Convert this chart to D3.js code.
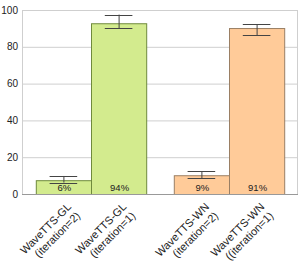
<!DOCTYPE html>
<html lang="en">
<head>
  <meta charset="UTF-8">
  <title>WaveTTS bars</title>
  <script src="https://d3js.org/d3.v7.min.js"></script>
  <style>
    body { margin: 0; background: #fff; }
    text { font-family: "Liberation Sans", Arial, sans-serif; fill: #222; }
    .grid line { stroke: #cfcfcf; stroke-width: 1; }
    .frame { fill: none; stroke: #cfcfcf; }
    .err { stroke: #444; stroke-width: 1; }
  </style>
</head>
<body>
  <svg width="300" height="276"></svg>

  <script>
    // data
    const groups = ["GL", "WN"];
    const series = ["iteration=2", "iteration=1"];
    const labels = [
      ["WaveTTS-GL", "(iteration=2)"], ["WaveTTS-GL", "(iteration=1)"],
      ["WaveTTS-WN", "(iteration=2)"], ["WaveTTS-WN", "((iteration=1)"]
    ];
    const values = [7.5, 92.8, 10.2, 90.2];
    const errLow = [6.2, 90.0, 8.5, 86.4];
    const errHigh = [9.8, 97.5, 12.3, 92.2];
    const pctLabels = ["6%", "94%", "9%", "91%"];
    const yTicks = [0, 20, 40, 60, 80, 100];

    const fills = { GL: "#d3eb8e", WN: "#ffcb99" };
    const strokes = { GL: "#6f8a3c", WN: "#9a7f64" };

    const svg = d3.select("svg");
    const margin = { top: 10, right: 2, bottom: 82, left: 22 };
    const width = 300 - margin.left - margin.right;
    const height = 276 - margin.top - margin.bottom;
    const g = svg.append("g").attr("transform", `translate(${margin.left},${margin.top})`);

    const x0 = d3.scaleBand().domain(groups).range([0, width])
      .paddingInner(0.2).paddingOuter(0.1);
    const x1 = d3.scaleBand().domain(series).range([0, x0.bandwidth()]);
    const y = d3.scaleLinear().domain([0, 100]).range([height, 0]);

    // grid lines
    g.append("g").attr("class", "grid")
      .selectAll("line").data(yTicks).enter().append("line")
      .attr("x1", 0).attr("x2", width)
      .attr("y1", d => y(d) + 0.5).attr("y2", d => y(d) + 0.5);

    g.append("rect").attr("class", "frame")
      .attr("x", 0.5).attr("y", 0.5).attr("width", width - 1).attr("height", height);

    // y tick labels
    g.append("g").selectAll("text").data(yTicks).enter().append("text")
      .attr("x", -4).attr("y", d => y(d) + 3.5)
      .attr("text-anchor", "end").attr("font-size", 10)
      .text(d => d);

    const rows = values.map((v, i) => ({
      v, lo: errLow[i], hi: errHigh[i], pct: pctLabels[i], label: labels[i],
      group: groups[Math.floor(i / 2)], s: series[i % 2]
    }));
    const bx = d => x0(d.group) + x1(d.s);
    const bw = x1.bandwidth();

    g.append("g").selectAll("rect").data(rows).enter().append("rect")
      .attr("x", d => bx(d) + 0.5).attr("y", d => y(d.v) + 0.5)
      .attr("width", bw).attr("height", d => height - y(d.v))
      .attr("fill", d => fills[d.group]).attr("stroke", d => strokes[d.group]);

    // error bars
    const eb = g.append("g").selectAll("g").data(rows).enter().append("g").attr("class", "err");
    eb.append("line")
      .attr("x1", d => bx(d) + bw / 2 + 0.5).attr("x2", d => bx(d) + bw / 2 + 0.5)
      .attr("y1", d => y(d.hi)).attr("y2", d => y(d.lo));
    eb.append("line")
      .attr("x1", d => bx(d) + bw / 4).attr("x2", d => bx(d) + bw * 3 / 4)
      .attr("y1", d => Math.round(y(d.hi)) + 0.5).attr("y2", d => Math.round(y(d.hi)) + 0.5);
    eb.append("line")
      .attr("x1", d => bx(d) + bw / 4).attr("x2", d => bx(d) + bw * 3 / 4)
      .attr("y1", d => Math.round(y(d.lo)) + 0.5).attr("y2", d => Math.round(y(d.lo)) + 0.5);

    // percent labels inside bars
    g.append("g").selectAll("text").data(rows).enter().append("text")
      .attr("x", d => bx(d) + bw / 2 + 1).attr("y", height - 3)
      .attr("text-anchor", "middle").attr("font-size", 9.5).attr("fill", "#333")
      .text(d => d.pct);

    // bottom axis line
    g.append("line").attr("x1", 0).attr("x2", width)
      .attr("y1", height + 0.5).attr("y2", height + 0.5).attr("stroke", "#999");

    // rotated category labels
    const lab = g.append("g").selectAll("text").data(rows).enter().append("text")
      .attr("transform", d => `translate(${bx(d) + bw / 2 + 8.5},${height + 13.5}) rotate(-45)`)
      .attr("text-anchor", "end").attr("font-size", 11);
    lab.append("tspan").attr("x", 0).attr("dy", 0).text(d => d.label[0]);
    lab.append("tspan").attr("x", 0).attr("dy", "1.15em").text(d => d.label[1]);
  </script>
</body>
</html>
